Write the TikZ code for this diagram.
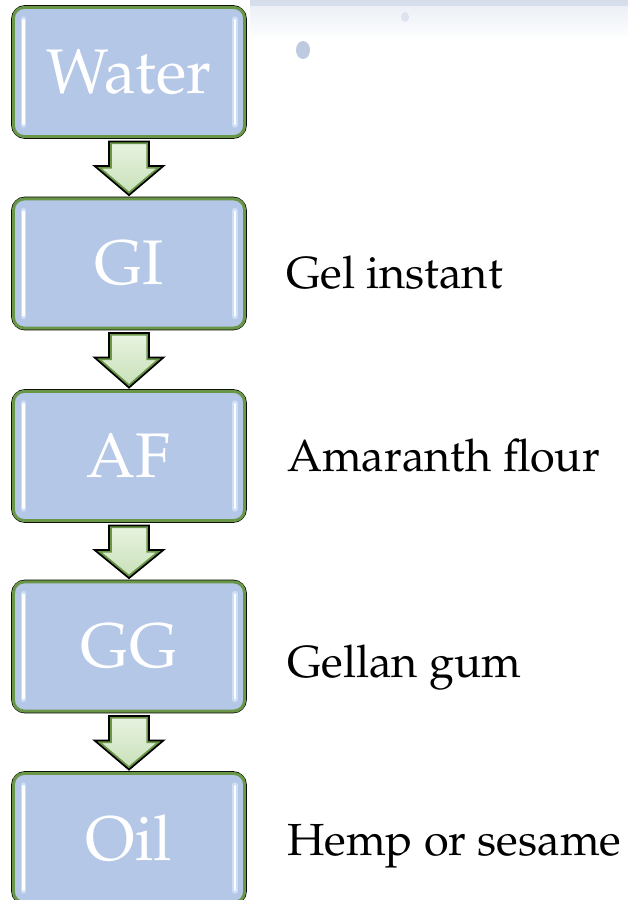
\documentclass[tikz,border=0pt]{standalone}
\usepackage[T1]{fontenc}
\usepackage{mathpazo}
\usetikzlibrary{calc}
\definecolor{boxblue}{RGB}{180,199,231}
\definecolor{bordgreen}{RGB}{106,150,72}
\definecolor{arrowlight}{RGB}{232,243,225}
\definecolor{arrowdark}{RGB}{200,224,184}
\definecolor{glow}{RGB}{205,222,248}
\definecolor{texture}{RGB}{190,202,224}
\newcommand\arrowpath[2]{($(#1.south)+(-20,2.5)$) -- ($(#1.south)+(20,2.5)$) -- ($(#1.south)+(20,27)$) -- ($(#1.south)+(34.5,27)$) -- ($(#2.north)+(0,-1.5)$) -- ($(#1.south)+(-34.5,27)$) -- ($(#1.south)+(-20,27)$) -- cycle}
\begin{document}
\begin{tikzpicture}[x=1pt,y=-1pt,
  stepbox/.style={draw=black, line width=1.8pt, rounded corners=13pt, fill=boxblue,
    minimum width=234pt, minimum height=132pt, inner sep=0pt,
    font=\fontsize{63}{70}\selectfont, text=white},
  sidelabel/.style={anchor=base west, inner sep=0pt, text=black,
    font=\fontsize{45}{50}\selectfont},
  innerborder/.style={draw=bordgreen, line width=3pt, rounded corners=11pt},
  glowline/.style={draw=glow, line width=5.5pt, line cap=round},
  coreline/.style={draw=white, line width=2.6pt, line cap=round},
  arrowfill/.style={top color=arrowlight, bottom color=arrowdark, draw=none},
  arrowgreen/.style={draw=bordgreen, line width=5.5pt},
  arrowblack/.style={draw=black, line width=1.7pt, line join=miter}
]
\useasboundingbox (0,0) rectangle (628,900);
% faint background texture at the top
\fill[texture, opacity=0.45] (250,0) rectangle (628,6);
\shade[top color=texture, bottom color=white, opacity=0.35] (250,0) rectangle (628,40);
\fill[texture] (303,50) ellipse (7 and 9);
\fill[texture, opacity=0.4] (405,17) ellipse (4 and 5);

% boxes
\node[stepbox] (w)   at (129,72)    {Water};
\node[stepbox] (gi)  at (129,263.5) {GI};
\node[stepbox] (af)  at (129,456)   {AF};
\node[stepbox] (gg)  at (129,646.5) {GG};
\node[stepbox] (oil) at (129,838)   {Oil};

\foreach \n in {w,gi,af,gg,oil}{
  \draw[innerborder] ($(\n.north west)+(2.3,2.3)$) rectangle ($(\n.south east)+(-2.3,-2.3)$);
  \draw[glowline] ($(\n.north west)+(12.5,14)$) -- ($(\n.south west)+(12.5,-14)$);
  \draw[coreline] ($(\n.north west)+(12.5,15)$) -- ($(\n.south west)+(12.5,-15)$);
  \draw[glowline] ($(\n.north east)+(-12,14)$) -- ($(\n.south east)+(-12,-14)$);
  \draw[coreline] ($(\n.north east)+(-12,15)$) -- ($(\n.south east)+(-12,-15)$);
}

% arrows
\foreach \a/\b in {w/gi, gi/af, af/gg, gg/oil}{
  \shade[arrowfill] \arrowpath{\a}{\b};
  \begin{scope}
    \clip \arrowpath{\a}{\b};
    \draw[arrowgreen] \arrowpath{\a}{\b};
  \end{scope}
  \draw[arrowblack] \arrowpath{\a}{\b};
}

% side labels
\node[sidelabel] (lgi)  at (286,288) {Gel instant};
\node[sidelabel] (laf)  at (287,471) {Amaranth flour};
\node[sidelabel] (lgg)  at (287,677) {Gellan gum};
\node[sidelabel] (loil) at (287,855) {Hemp or sesame};
\end{tikzpicture}
\end{document}
